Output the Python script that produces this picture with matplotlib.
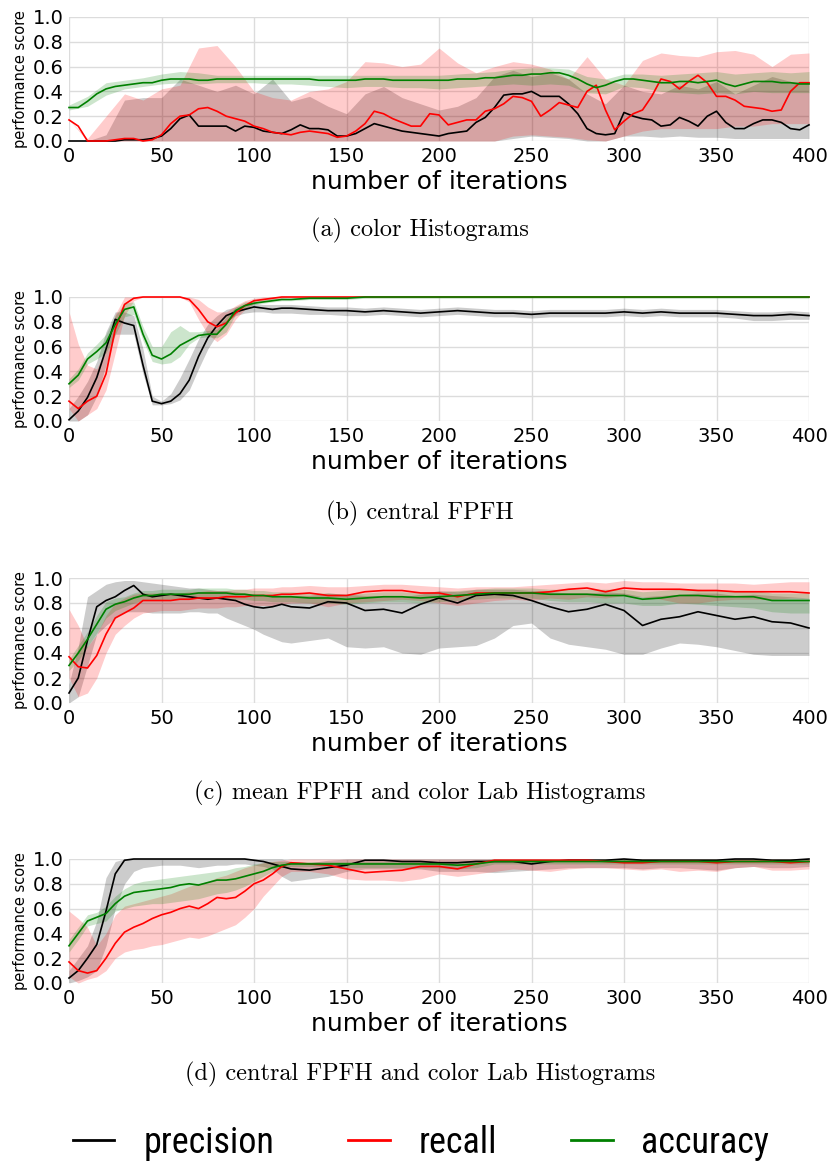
import matplotlib
matplotlib.use('Agg')
import matplotlib.pyplot as plt
import matplotlib.font_manager as fm
from matplotlib.lines import Line2D
from matplotlib.ticker import FormatStrFormatter

# ---------------- data ----------------
# panel (a): lines sampled every 5 iterations, bands every 10 iterations
IT_A = list(range(0, 401, 5))
IT_A_BAND = list(range(0, 401, 10))
# panels (b)-(d): every 5 iterations up to 115, then every 10
IT = list(range(0, 120, 5)) + list(range(120, 401, 10))

prec_a = [0, 0, 0, 0, 0, 0, 0.01, 0.01, 0.01, 0.02,
          0.04, 0.1, 0.18, 0.21, 0.12, 0.12, 0.12, 0.12, 0.08, 0.12,
          0.11, 0.08, 0.07, 0.06, 0.09, 0.13, 0.1, 0.1, 0.09, 0.04,
          0.04, 0.06, 0.1, 0.14, 0.12, 0.1, 0.08, 0.07, 0.06, 0.05,
          0.04, 0.06, 0.07, 0.08, 0.15, 0.19, 0.27, 0.37, 0.38, 0.38,
          0.4, 0.36, 0.36, 0.36, 0.3, 0.22, 0.1, 0.06, 0.05, 0.06,
          0.23, 0.2, 0.18, 0.17, 0.12, 0.13, 0.19, 0.16, 0.12, 0.2,
          0.24, 0.15, 0.1, 0.1, 0.14, 0.17, 0.17, 0.15, 0.1, 0.09, 0.13]
rec_a = [0.17, 0.12, 0, 0, 0, 0.01, 0.02, 0.02, 0.0, 0.01,
         0.05, 0.14, 0.2, 0.21, 0.26, 0.27, 0.24, 0.2, 0.18, 0.16,
         0.12, 0.1, 0.07, 0.06, 0.05, 0.07, 0.08, 0.07, 0.06, 0.03,
         0.04, 0.08, 0.14, 0.24, 0.22, 0.18, 0.15, 0.12, 0.12, 0.22,
         0.21, 0.13, 0.15, 0.17, 0.17, 0.24, 0.26, 0.3, 0.36, 0.35,
         0.32, 0.2, 0.25, 0.31, 0.29, 0.27, 0.4, 0.45, 0.25, 0.09,
         0.16, 0.22, 0.25, 0.36, 0.5, 0.48, 0.42, 0.48, 0.53, 0.47,
         0.36, 0.36, 0.33, 0.28, 0.27, 0.26, 0.24, 0.25, 0.4, 0.47, 0.47]
acc_a = [0.27, 0.27, 0.32, 0.38, 0.42, 0.44, 0.45, 0.46, 0.47, 0.47,
         0.49, 0.5, 0.5, 0.5, 0.49, 0.49, 0.5, 0.5, 0.5, 0.5,
         0.5, 0.5, 0.5, 0.5, 0.5, 0.5, 0.5, 0.49, 0.49, 0.49,
         0.49, 0.49, 0.5, 0.5, 0.5, 0.49, 0.49, 0.49, 0.49, 0.49,
         0.49, 0.49, 0.5, 0.5, 0.5, 0.51, 0.51, 0.52, 0.53, 0.53,
         0.54, 0.54, 0.55, 0.55, 0.53, 0.5, 0.46, 0.43, 0.45, 0.48,
         0.5, 0.5, 0.49, 0.48, 0.47, 0.47, 0.48, 0.48, 0.47, 0.48,
         0.49, 0.46, 0.44, 0.46, 0.48, 0.48, 0.48, 0.47, 0.47, 0.46, 0.46]
prec_lo_a = [0, 0, 0, 0, 0, 0, 0, 0, 0, 0,
             0, 0, 0, 0, 0, 0, 0, 0, 0, 0,
             0, 0, 0, 0, 0.02, 0.04, 0.03, 0.02, 0, 0,
             0.04, 0.04, 0.03, 0.04, 0.03, 0.03, 0.02, 0.02, 0.02, 0.02, 0.02]
prec_hi_a = [0, 0, 0.05, 0.33, 0.35, 0.35, 0.5, 0.45, 0.4, 0.45,
             0.38, 0.5, 0.32, 0.36, 0.28, 0.22, 0.38, 0.44, 0.35, 0.3,
             0.25, 0.28, 0.35, 0.52, 0.57, 0.52, 0.55, 0.5, 0.38, 0.3,
             0.45, 0.4, 0.38, 0.45, 0.42, 0.48, 0.38, 0.45, 0.52, 0.48, 0.48]
rec_lo_a = [0.17, 0, 0, 0, 0, 0, 0, 0, 0, 0,
            0, 0, 0, 0, 0, 0, 0, 0, 0, 0,
            0, 0, 0, 0, 0.04, 0.05, 0.04, 0.03, 0.01, 0,
            0.04, 0.08, 0.1, 0.1, 0.1, 0.1, 0.12, 0.12, 0.14, 0.14, 0.14]
rec_hi_a = [0.17, 0.02, 0.2, 0.38, 0.33, 0.42, 0.45, 0.75, 0.77, 0.6,
            0.4, 0.35, 0.33, 0.4, 0.42, 0.48, 0.64, 0.63, 0.6, 0.62,
            0.75, 0.63, 0.55, 0.6, 0.64, 0.62, 0.58, 0.5, 0.68, 0.5,
            0.45, 0.65, 0.71, 0.69, 0.68, 0.72, 0.73, 0.7, 0.6, 0.7, 0.71]
acc_lo_a = [0.25, 0.28, 0.37, 0.42, 0.44, 0.46, 0.47, 0.46, 0.47, 0.47,
            0.47, 0.46, 0.46, 0.45, 0.44, 0.43, 0.44, 0.44, 0.43, 0.43,
            0.42, 0.43, 0.44, 0.45, 0.46, 0.45, 0.46, 0.45, 0.39, 0.38,
            0.44, 0.43, 0.4, 0.39, 0.38, 0.39, 0.38, 0.4, 0.39, 0.39, 0.39]
acc_hi_a = [0.29, 0.36, 0.47, 0.49, 0.51, 0.54, 0.56, 0.55, 0.53, 0.53,
            0.53, 0.53, 0.53, 0.53, 0.53, 0.53, 0.53, 0.53, 0.53, 0.53,
            0.53, 0.54, 0.55, 0.56, 0.58, 0.59, 0.59, 0.58, 0.52, 0.5,
            0.54, 0.54, 0.53, 0.54, 0.55, 0.56, 0.54, 0.55, 0.56, 0.55, 0.56]

prec_b = [0.01, 0.08, 0.19, 0.35, 0.58, 0.82, 0.79, 0.77, 0.45, 0.16, 0.14, 0.16,
          0.22, 0.33, 0.52, 0.67, 0.77, 0.85, 0.88, 0.9, 0.92, 0.91, 0.9, 0.91,
          0.91, 0.9, 0.89, 0.89, 0.88, 0.89, 0.88, 0.87, 0.88, 0.89, 0.88, 0.87, 0.87, 0.86,
          0.87, 0.87, 0.87, 0.87, 0.88, 0.87, 0.88, 0.87, 0.87, 0.87, 0.86, 0.85, 0.85, 0.86, 0.85]
prec_lo_b = [0.0, 0.0, 0.05, 0.2, 0.45, 0.7, 0.7, 0.7, 0.38, 0.13, 0.13, 0.14,
             0.17, 0.25, 0.42, 0.58, 0.7, 0.8, 0.85, 0.87, 0.88, 0.88, 0.87, 0.87,
             0.87, 0.86, 0.86, 0.85, 0.85, 0.86, 0.85, 0.84, 0.85, 0.86, 0.85, 0.84, 0.84, 0.83,
             0.84, 0.84, 0.84, 0.84, 0.85, 0.84, 0.85, 0.84, 0.84, 0.84, 0.83, 0.81, 0.81, 0.82, 0.82]
prec_hi_b = [0.1, 0.2, 0.32, 0.48, 0.72, 0.88, 0.88, 0.85, 0.58, 0.2, 0.16, 0.22,
             0.35, 0.5, 0.66, 0.78, 0.85, 0.9, 0.92, 0.94, 0.95, 0.94, 0.94, 0.94,
             0.94, 0.93, 0.92, 0.92, 0.91, 0.92, 0.91, 0.9, 0.91, 0.92, 0.91, 0.9, 0.9, 0.89,
             0.9, 0.9, 0.9, 0.9, 0.91, 0.9, 0.91, 0.9, 0.9, 0.9, 0.89, 0.88, 0.88, 0.89, 0.88]
rec_b = [0.16, 0.1, 0.16, 0.2, 0.38, 0.74, 0.94, 0.99, 1, 1, 1, 1,
         1, 0.98, 0.9, 0.8, 0.76, 0.79, 0.87, 0.93, 0.97, 0.98, 0.99, 1.0,
         1, 1, 1, 1, 1, 1, 1, 1, 1, 1, 1, 1, 1, 1,
         1, 1, 1, 1, 1, 1, 1, 1, 1, 1, 1, 1, 1, 1, 1]
rec_lo_b = [0.1, 0.0, 0.05, 0.1, 0.25, 0.55, 0.85, 0.97, 1, 1, 1, 1,
            1, 0.96, 0.82, 0.7, 0.64, 0.7, 0.82, 0.9, 0.95, 0.97, 0.98, 0.99,
            1, 1, 1, 1, 1, 1, 1, 1, 1, 1, 1, 1, 1, 1,
            1, 1, 1, 1, 1, 1, 1, 1, 1, 1, 1, 1, 1, 1, 1]
rec_hi_b = [0.88, 0.62, 0.45, 0.42, 0.58, 0.86, 1, 1, 1, 1, 1, 1,
            1, 1, 0.98, 0.92, 0.88, 0.88, 0.93, 0.97, 0.99, 1, 1, 1,
            1, 1, 1, 1, 1, 1, 1, 1, 1, 1, 1, 1, 1, 1,
            1, 1, 1, 1, 1, 1, 1, 1, 1, 1, 1, 1, 1, 1, 1]
acc_b = [0.3, 0.37, 0.5, 0.56, 0.63, 0.78, 0.9, 0.92, 0.7, 0.53, 0.5, 0.54,
         0.61, 0.65, 0.69, 0.7, 0.7, 0.78, 0.89, 0.93, 0.95, 0.96, 0.97, 0.98,
         0.98, 0.99, 0.99, 0.99, 1, 1, 1, 1, 1, 1, 1, 1, 1, 1,
         1, 1, 1, 1, 1, 1, 1, 1, 1, 1, 1, 1, 1, 1, 1]
acc_lo_b = [0.27, 0.33, 0.46, 0.5, 0.55, 0.7, 0.84, 0.86, 0.65, 0.48, 0.46, 0.47,
            0.52, 0.62, 0.67, 0.68, 0.67, 0.72, 0.86, 0.91, 0.94, 0.95, 0.96, 0.97,
            0.97, 0.98, 0.98, 0.98, 0.99, 0.99, 0.99, 0.99, 0.99, 0.99, 0.99, 0.99, 0.99, 0.99,
            0.99, 0.99, 0.99, 0.99, 0.99, 0.99, 0.99, 0.99, 0.99, 0.99, 0.99, 0.99, 0.99, 0.99, 0.99]
acc_hi_b = [0.34, 0.42, 0.55, 0.62, 0.7, 0.85, 0.95, 0.96, 0.76, 0.6, 0.6, 0.72,
            0.77, 0.72, 0.72, 0.73, 0.74, 0.84, 0.92, 0.96, 0.97, 0.98, 0.99, 0.99,
            0.99, 1, 1, 1, 1, 1, 1, 1, 1, 1, 1, 1, 1, 1,
            1, 1, 1, 1, 1, 1, 1, 1, 1, 1, 1, 1, 1, 1, 1]

prec_c = [0.08, 0.2, 0.5, 0.77, 0.82, 0.85, 0.9, 0.94, 0.87, 0.85, 0.86, 0.87,
          0.86, 0.85, 0.84, 0.83, 0.84, 0.83, 0.82, 0.79, 0.77, 0.76, 0.77, 0.79,
          0.77, 0.76, 0.81, 0.8, 0.74, 0.75, 0.72, 0.79, 0.84, 0.8, 0.86, 0.87, 0.86, 0.82,
          0.77, 0.73, 0.75, 0.79, 0.74, 0.62, 0.67, 0.69, 0.73, 0.7, 0.67, 0.69, 0.65, 0.64, 0.6]
prec_lo_c = [0.0, 0.05, 0.3, 0.55, 0.62, 0.68, 0.73, 0.73, 0.73, 0.72, 0.72, 0.72,
             0.72, 0.73, 0.73, 0.72, 0.72, 0.68, 0.65, 0.62, 0.59, 0.55, 0.52, 0.49,
             0.48, 0.5, 0.52, 0.45, 0.44, 0.45, 0.4, 0.39, 0.44, 0.45, 0.46, 0.52, 0.62, 0.64,
             0.52, 0.47, 0.45, 0.43, 0.39, 0.39, 0.44, 0.48, 0.47, 0.45, 0.42, 0.39, 0.38, 0.38, 0.38]
prec_hi_c = [0.15, 0.45, 0.85, 0.9, 0.95, 0.97, 0.98, 0.98, 0.97, 0.96, 0.95, 0.94,
             0.93, 0.92, 0.92, 0.91, 0.9, 0.9, 0.89, 0.88, 0.87, 0.86, 0.86, 0.86,
             0.86, 0.86, 0.88, 0.87, 0.86, 0.86, 0.85, 0.87, 0.9, 0.89, 0.91, 0.91, 0.91, 0.9,
             0.89, 0.88, 0.88, 0.89, 0.88, 0.85, 0.86, 0.87, 0.88, 0.88, 0.86, 0.87, 0.86, 0.85, 0.84]
rec_c = [0.37, 0.29, 0.28, 0.38, 0.55, 0.68, 0.72, 0.76, 0.82, 0.82, 0.82, 0.82,
         0.83, 0.83, 0.84, 0.84, 0.84, 0.85, 0.85, 0.85, 0.86, 0.86, 0.86, 0.87,
         0.87, 0.88, 0.86, 0.86, 0.89, 0.9, 0.9, 0.88, 0.88, 0.85, 0.88, 0.88, 0.88, 0.88,
         0.89, 0.91, 0.92, 0.89, 0.92, 0.91, 0.91, 0.91, 0.9, 0.9, 0.89, 0.89, 0.89, 0.89, 0.88]
rec_lo_c = [0.2, 0.05, 0.08, 0.2, 0.4, 0.55, 0.62, 0.68, 0.72, 0.73, 0.74, 0.74,
            0.74, 0.75, 0.76, 0.76, 0.76, 0.77, 0.77, 0.78, 0.78, 0.78, 0.78, 0.79,
            0.8, 0.8, 0.77, 0.8, 0.81, 0.82, 0.83, 0.82, 0.8, 0.78, 0.8, 0.82, 0.83, 0.82,
            0.84, 0.83, 0.85, 0.84, 0.86, 0.85, 0.83, 0.8, 0.8, 0.82, 0.83, 0.83, 0.83, 0.84, 0.84]
rec_hi_c = [0.75, 0.62, 0.45, 0.55, 0.7, 0.8, 0.84, 0.87, 0.88, 0.88, 0.88, 0.88,
            0.88, 0.89, 0.89, 0.9, 0.9, 0.9, 0.91, 0.91, 0.92, 0.92, 0.92, 0.93,
            0.93, 0.94, 0.93, 0.93, 0.94, 0.95, 0.95, 0.94, 0.93, 0.92, 0.93, 0.93, 0.93, 0.94,
            0.95, 0.96, 0.97, 0.96, 0.98, 0.97, 0.97, 0.96, 0.96, 0.96, 0.96, 0.95, 0.96, 0.97, 0.97]
acc_c = [0.3, 0.4, 0.51, 0.63, 0.75, 0.79, 0.81, 0.84, 0.86, 0.86, 0.87, 0.87,
         0.87, 0.87, 0.88, 0.88, 0.88, 0.88, 0.87, 0.87, 0.86, 0.86, 0.85, 0.85,
         0.85, 0.84, 0.84, 0.83, 0.84, 0.85, 0.85, 0.84, 0.85, 0.86, 0.87, 0.88, 0.88, 0.88,
         0.87, 0.87, 0.87, 0.86, 0.86, 0.83, 0.84, 0.86, 0.86, 0.85, 0.85, 0.85, 0.82, 0.82, 0.82]
acc_lo_c = [0.26, 0.34, 0.45, 0.56, 0.68, 0.74, 0.77, 0.8, 0.82, 0.82, 0.83, 0.83,
            0.83, 0.83, 0.84, 0.84, 0.84, 0.84, 0.83, 0.83, 0.82, 0.82, 0.81, 0.81,
            0.81, 0.8, 0.8, 0.79, 0.8, 0.81, 0.81, 0.8, 0.81, 0.82, 0.83, 0.84, 0.84, 0.84,
            0.82, 0.81, 0.81, 0.8, 0.8, 0.78, 0.78, 0.8, 0.79, 0.78, 0.77, 0.76, 0.73, 0.72, 0.72]
acc_hi_c = [0.35, 0.46, 0.57, 0.7, 0.81, 0.84, 0.85, 0.88, 0.9, 0.9, 0.91, 0.91,
            0.91, 0.91, 0.92, 0.92, 0.92, 0.92, 0.91, 0.91, 0.9, 0.9, 0.89, 0.89,
            0.89, 0.88, 0.88, 0.87, 0.88, 0.89, 0.89, 0.88, 0.89, 0.9, 0.91, 0.92, 0.92, 0.92,
            0.91, 0.91, 0.91, 0.91, 0.91, 0.89, 0.9, 0.91, 0.91, 0.9, 0.9, 0.9, 0.88, 0.88, 0.88]

prec_d = [0.04, 0.1, 0.2, 0.31, 0.58, 0.88, 0.99, 1, 1, 1, 1, 1,
          1, 1, 1, 1, 1, 1, 1, 1, 0.99, 0.98, 0.96, 0.94,
          0.92, 0.91, 0.93, 0.95, 0.99, 0.99, 0.98, 0.98, 0.97, 0.97, 0.98, 0.98, 0.98, 0.96,
          0.98, 0.99, 0.99, 0.99, 1, 0.99, 0.99, 0.99, 0.99, 0.99, 1, 1, 0.99, 0.99, 1]
prec_lo_d = [0.0, 0.02, 0.05, 0.1, 0.3, 0.6, 0.8, 0.9, 0.93, 0.94, 0.95, 0.95,
             0.95, 0.94, 0.93, 0.94, 0.95, 0.95, 0.96, 0.96, 0.95, 0.94, 0.92, 0.86,
             0.82, 0.84, 0.86, 0.9, 0.92, 0.92, 0.92, 0.92, 0.9, 0.9, 0.9, 0.89, 0.9, 0.91,
             0.92, 0.93, 0.93, 0.93, 0.93, 0.92, 0.93, 0.93, 0.92, 0.91, 0.93, 0.94, 0.93, 0.93, 0.94]
prec_hi_d = [0.1, 0.2, 0.3, 0.5, 0.85, 0.98, 1, 1, 1, 1, 1, 1,
             1, 1, 1, 1, 1, 1, 1, 1, 1, 1, 1, 1,
             0.98, 0.97, 0.99, 1, 1, 1, 1, 1, 1, 1, 1, 1, 1, 1,
             1, 1, 1, 1, 1, 1, 1, 1, 1, 1, 1, 1, 1, 1, 1]
rec_d = [0.17, 0.1, 0.08, 0.1, 0.2, 0.32, 0.41, 0.45, 0.48, 0.52, 0.55, 0.57,
         0.6, 0.62, 0.6, 0.64, 0.69, 0.68, 0.69, 0.74, 0.8, 0.83, 0.88, 0.94,
         0.97, 0.96, 0.95, 0.92, 0.89, 0.9, 0.91, 0.94, 0.94, 0.92, 0.96, 0.99, 0.99, 0.99,
         0.99, 0.99, 0.99, 0.98, 0.97, 0.97, 0.98, 0.98, 0.98, 0.97, 0.98, 0.98, 0.98, 0.97, 0.98]
rec_lo_d = [0.05, 0.0, 0.03, 0.05, 0.1, 0.2, 0.25, 0.27, 0.28, 0.3, 0.31, 0.33,
            0.35, 0.37, 0.36, 0.38, 0.41, 0.44, 0.47, 0.53, 0.6, 0.7, 0.78, 0.86,
            0.9, 0.9, 0.88, 0.84, 0.83, 0.83, 0.82, 0.84, 0.88, 0.86, 0.88, 0.9, 0.92, 0.91,
            0.9, 0.92, 0.93, 0.93, 0.92, 0.91, 0.92, 0.9, 0.91, 0.9, 0.93, 0.94, 0.91, 0.91, 0.92]
rec_hi_d = [0.58, 0.52, 0.45, 0.3, 0.4, 0.55, 0.62, 0.64, 0.66, 0.68, 0.7, 0.72,
            0.75, 0.78, 0.8, 0.82, 0.85, 0.87, 0.9, 0.93, 0.95, 0.97, 0.98, 0.99,
            1, 1, 1, 1, 1, 1, 1, 1, 1, 1, 1, 1, 1, 1,
            1, 1, 1, 1, 1, 1, 1, 1, 1, 1, 1, 1, 1, 1, 1]
acc_d = [0.3, 0.4, 0.5, 0.53, 0.56, 0.64, 0.7, 0.73, 0.74, 0.75, 0.76, 0.77,
         0.79, 0.8, 0.79, 0.81, 0.83, 0.83, 0.84, 0.86, 0.88, 0.9, 0.93, 0.95,
         0.96, 0.96, 0.96, 0.96, 0.96, 0.96, 0.96, 0.96, 0.96, 0.95, 0.96, 0.98, 0.98, 0.98,
         0.98, 0.98, 0.98, 0.98, 0.98, 0.98, 0.98, 0.98, 0.98, 0.98, 0.98, 0.98, 0.98, 0.98, 0.98]
acc_lo_d = [0.25, 0.35, 0.46, 0.48, 0.5, 0.58, 0.6, 0.62, 0.63, 0.64, 0.64, 0.65,
            0.66, 0.67, 0.68, 0.7, 0.72, 0.73, 0.75, 0.78, 0.82, 0.86, 0.9, 0.93,
            0.94, 0.94, 0.94, 0.93, 0.93, 0.93, 0.93, 0.93, 0.93, 0.92, 0.93, 0.96, 0.96, 0.96,
            0.96, 0.96, 0.96, 0.96, 0.96, 0.96, 0.96, 0.96, 0.96, 0.96, 0.96, 0.96, 0.96, 0.96, 0.96]
acc_hi_d = [0.35, 0.45, 0.55, 0.57, 0.62, 0.7, 0.76, 0.8, 0.82, 0.83, 0.84, 0.85,
            0.86, 0.87, 0.88, 0.89, 0.9, 0.91, 0.93, 0.94, 0.96, 0.97, 0.98, 0.98,
            0.98, 0.98, 0.98, 0.98, 0.98, 0.98, 0.98, 0.98, 0.98, 0.98, 0.99, 1, 1, 1,
            1, 1, 1, 1, 1, 1, 1, 1, 1, 1, 1, 1, 1, 1, 1]

captions = ['(a) color Histograms', '(b) central FPFH',
            '(c) mean FPFH and color Lab Histograms',
            '(d) central FPFH and color Lab Histograms']
series_names = ['precision', 'recall', 'accuracy']
series_colors = ['black', 'red', 'green']
x_ticks = [0, 50, 100, 150, 200, 250, 300, 350, 400]
y_ticks = [0.0, 0.2, 0.4, 0.6, 0.8, 1.0]

panels = [
    dict(x=IT_A, xb=IT_A_BAND,
         lines=[prec_a, rec_a, acc_a],
         bands=[(prec_lo_a, prec_hi_a), (rec_lo_a, rec_hi_a), (acc_lo_a, acc_hi_a)]),
    dict(x=IT, xb=IT,
         lines=[prec_b, rec_b, acc_b],
         bands=[(prec_lo_b, prec_hi_b), (rec_lo_b, rec_hi_b), (acc_lo_b, acc_hi_b)]),
    dict(x=IT, xb=IT,
         lines=[prec_c, rec_c, acc_c],
         bands=[(prec_lo_c, prec_hi_c), (rec_lo_c, rec_hi_c), (acc_lo_c, acc_hi_c)]),
    dict(x=IT, xb=IT,
         lines=[prec_d, rec_d, acc_d],
         bands=[(prec_lo_d, prec_hi_d), (rec_lo_d, rec_hi_d), (acc_lo_d, acc_hi_d)]),
]

# pick a narrow font for the legend if one is installed
legend_family, legend_size = 'DejaVu Sans', 22
for fam, size in [('Liberation Sans Narrow', 27), ('DejaVu Sans Condensed', 24),
                  ('Roboto Condensed', 26), ('Open Sans Condensed', 26)]:
    try:
        fm.findfont(fm.FontProperties(family=fam), fallback_to_default=False)
        legend_family, legend_size = fam, size
        break
    except Exception:
        pass

# ---------------- layout ----------------
W, H = 832, 1162
fig = plt.figure(figsize=(W / 100, H / 100), dpi=100)
axes_px = [(17, 141), (297, 421), (578, 703), (859, 983)]   # top, bottom in pixels
caption_y = [230, 513, 793, 1074]

for p, (top, bot), cap, cy in zip(panels, axes_px, captions, caption_y):
    ax = fig.add_axes([69 / W, 1 - bot / H, 740 / W, (bot - top) / H])
    for (lo, hi), col in zip(p['bands'], series_colors):
        ax.fill_between(p['xb'], lo, hi, color=col, alpha=0.2, lw=0)
    for vals, col in zip(p['lines'], series_colors):
        ax.plot(p['x'], vals, color=col, lw=1.2, clip_on=False)
    ax.set_xlim(0, 400)
    ax.set_ylim(0, 1)
    ax.set_xticks(x_ticks)
    ax.set_yticks(y_ticks)
    ax.yaxis.set_major_formatter(FormatStrFormatter('%.1f'))
    for s in ax.spines.values():
        s.set_visible(False)
    ax.grid(True, color='#dcdcdc', lw=1.0)
    ax.set_axisbelow(True)
    ax.tick_params(length=0, labelsize=14, pad=4)
    ax.set_xlabel('number of iterations', fontsize=18, labelpad=3)
    ax.set_ylabel('performance score', fontsize=10.5, labelpad=3)
    fig.text(0.505, 1 - cy / H, cap, ha='center', va='center',
             family='cmr10', fontsize=17.5)

handles = [Line2D([], [], color=c, lw=2) for c in series_colors]
fig.legend(handles, series_names, loc='center', bbox_to_anchor=(0.506, 1 - 1143 / H),
           ncol=3, frameon=False,
           prop={'family': legend_family, 'size': legend_size},
           handlelength=1.15, handletextpad=0.8, columnspacing=2.05)

fig.savefig('out.png', dpi=100)
